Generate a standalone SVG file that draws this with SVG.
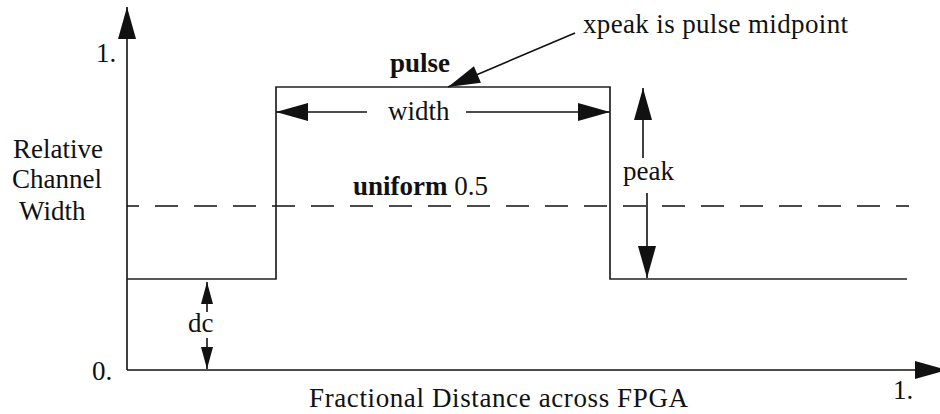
<svg xmlns="http://www.w3.org/2000/svg" width="940" height="414" viewBox="0 0 940 414">
<style>
text{font-family:"Liberation Serif","Times New Roman",serif;font-size:27px;fill:#111}
.b{font-weight:bold}
.ln{fill:none;stroke:#111;stroke-width:1.6}
.st{fill:none;stroke:#222;stroke-width:1.7}
.ds{fill:none;stroke:#111;stroke-width:1.6;stroke-dasharray:23 16;stroke-dashoffset:11}
</style>
<defs>
<marker id="ah" markerUnits="userSpaceOnUse" markerWidth="32" markerHeight="18" refX="32" refY="9" orient="auto" overflow="visible"><path d="M0,0 L32,9 L0,18 z" fill="#111"/></marker>
<marker id="as" markerUnits="userSpaceOnUse" markerWidth="22" markerHeight="12" refX="22" refY="6" orient="auto" overflow="visible"><path d="M0,0 L22,6 L0,12 z" fill="#111"/></marker>
</defs>
<rect width="940" height="414" fill="#fff"/>
<g id="axes">
<line class="ln" x1="127" y1="370" x2="127" y2="7" marker-end="url(#ah)"/>
<line class="ln" x1="127" y1="370" x2="947" y2="370" marker-end="url(#ah)"/>
</g>
<g id="uniform-line">
<path class="ds" d="M127,206 H909"/>
</g>
<g id="pulse-curve">
<path class="st" d="M127,279 H276 V87 H610 V279 H907"/>
</g>
<g id="connectors">
<line class="ln" x1="367" y1="112" x2="276" y2="112" marker-end="url(#ah)"/>
<line class="ln" x1="466" y1="112" x2="610" y2="112" marker-end="url(#ah)"/>
<line class="ln" x1="643" y1="158" x2="643" y2="88" marker-end="url(#ah)"/>
<line class="ln" x1="647" y1="193" x2="647" y2="278" marker-end="url(#ah)"/>
<line class="ln" x1="575" y1="33" x2="448" y2="87" marker-end="url(#ah)"/>
<line class="ln" x1="207" y1="312" x2="207" y2="282" marker-end="url(#as)"/>
<line class="ln" x1="207" y1="338" x2="207" y2="369" marker-end="url(#as)"/>
</g>
<g id="labels">
<text x="96" y="62">1.</text>
<text x="583" y="33" textLength="265">xpeak is pulse midpoint</text>
<text class="b" x="390" y="72">pulse</text>
<text x="388" y="120">width</text>
<text x="13" y="158">Relative</text>
<text x="12" y="188">Channel</text>
<text x="19" y="220">Width</text>
<text x="353" y="195"><tspan class="b">uniform</tspan> 0.5</text>
<text x="623" y="180">peak</text>
<text x="188" y="332">dc</text>
<text x="92" y="380">0.</text>
<text x="893" y="399">1.</text>
<text x="309" y="407" textLength="379">Fractional Distance across FPGA</text>
</g>
</svg>
